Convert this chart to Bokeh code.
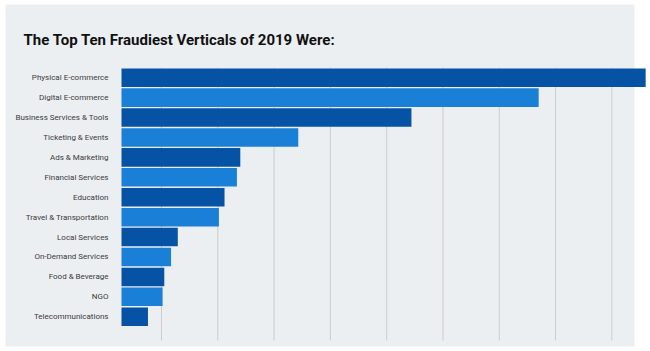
from bokeh.plotting import figure
from bokeh.models import Range1d, ColumnDataSource
from bokeh.core.properties import value
from bokeh.embed import file_html
from bokeh.resources import INLINE

# ---- data ----
categories = [
    "Physical E-commerce", "Digital E-commerce", "Business Services & Tools",
    "Ticketing & Events", "Ads & Marketing", "Financial Services", "Education",
    "Travel & Transportation", "Local Services", "On-Demand Services",
    "Food & Beverage", "NGO", "Telecommunications",
]
values = [9.31, 7.41, 5.15, 3.14, 2.11, 2.05, 1.83, 1.73, 1.00, 0.88, 0.76, 0.73, 0.47]
grid_ticks = [0.71, 1.71, 2.71, 3.71, 4.71, 5.71, 6.71, 7.71, 8.71]
title_text = "The Top Ten Fraudiest Verticals of 2019 Were:"

# ---- layout constants (pixels) ----
W, H = 650, 351
X0_PX, X_UNIT = 121.0, 56.3      # zero of value axis, px per unit
Y0_PX, Y_UNIT = 77.2, 19.92      # centre of first bar, px per row

def dx(px):
    return (px - X0_PX) / X_UNIT

def dy(py):
    return (py - Y0_PX) / Y_UNIT

DARK = "#0652A5"
LIGHT = "#1A7FD6"
PANEL = "#ECEFF2"
GRID = "#C9CDD2"

p = figure(width=W, height=H, output_backend="svg", toolbar_location=None,
           x_range=Range1d(dx(0), dx(W)), y_range=Range1d(dy(H), dy(0)),
           x_axis_location=None, y_axis_location=None,
           min_border=0, min_border_left=0, min_border_right=0,
           min_border_top=0, min_border_bottom=0)
p.outline_line_color = None
p.background_fill_color = "white"
p.border_fill_color = "white"
p.xgrid.visible = False
p.ygrid.visible = False

# background panel
p.quad(left=[dx(5)], right=[dx(634)], top=[dy(4)], bottom=[dy(346)],
       fill_color=PANEL, line_color=None)

# vertical grid lines
p.segment(x0=grid_ticks, x1=grid_ticks,
          y0=[-0.5] * len(grid_ticks), y1=[dy(340)] * len(grid_ticks),
          line_color=GRID, line_width=1)

idx = list(range(len(categories)))
colors = [DARK if i % 2 == 0 else LIGHT for i in idx]
src = ColumnDataSource(dict(y=idx, right=values, color=colors, label=categories,
                            zero=[0] * len(idx)))

p.hbar(y="y", left=0, right="right", height=0.93, fill_color="color",
       line_color=None, source=src)

p.text(x="zero", y="y", text="label", source=src, x_offset=-13,
       text_align="right", text_baseline="middle",
       text_font=value("Roboto"), text_font_size="8px",
       text_color="#3A3A3A")

p.text(x=[dx(23)], y=[dy(39)], text=[title_text],
       text_align="left", text_baseline="alphabetic",
       text_font=value("Roboto"), text_font_style="bold",
       text_font_size="15px", text_color="#111111")

open("out.html", "w").write(file_html(p, INLINE))
